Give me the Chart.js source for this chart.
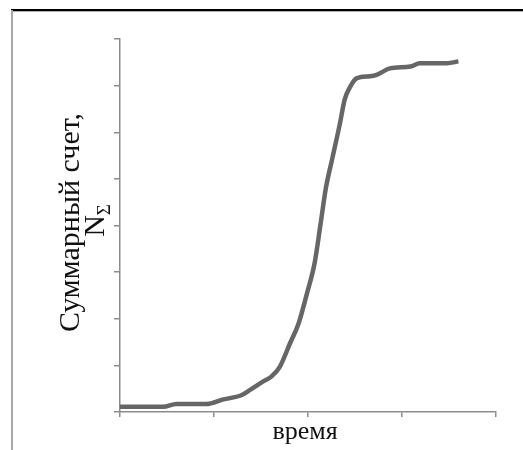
<!DOCTYPE html>
<html>
<head>
<meta charset="utf-8">
<script src="https://cdn.jsdelivr.net/npm/chart.js@4/dist/chart.umd.min.js"></script>
<style>
  html, body { margin: 0; padding: 0; background: #fff; }
  #wrap { width: 523px; height: 450px; position: relative; }
</style>
</head>
<body>
<div id="wrap"><canvas id="myChart"></canvas></div>
<script>
const cox = document.getElementById('myChart').getContext('2d');

// Time (in x tick units) and cumulative count (in y tick units)
const timeValues = [0, 0.46, 0.60, 0.92, 1.10, 1.29, 1.38, 1.52, 1.61, 1.70, 1.81, 1.90, 1.99, 2.07, 2.13, 2.19, 2.26, 2.34, 2.39, 2.45, 2.52, 2.66, 2.73, 2.87, 3.09, 3.19, 3.48, 3.60];
const countValues = [0.11, 0.11, 0.17, 0.17, 0.27, 0.36, 0.47, 0.65, 0.76, 0.97, 1.48, 1.90, 2.55, 3.19, 3.98, 4.80, 5.45, 6.19, 6.70, 6.98, 7.16, 7.20, 7.23, 7.37, 7.41, 7.48, 7.48, 7.52];

const xTitle = 'время';
const yTitleLine1 = 'Суммарный счет,';
const yTitleMain = 'N';
const yTitleSub = 'Σ';

const serif = '"Liberation Serif", "DejaVu Serif", serif';
const axisGray = '#8c8c8c';

// Frame, axis titles (with subscript) drawn by hand
const decorations = {
    id: 'decorations',
    beforeDraw(chart) {
        const ctx = chart.ctx;
        ctx.save();
        ctx.fillStyle = '#fff';
        ctx.fillRect(0, 0, chart.width, chart.height);
        ctx.fillStyle = '#000';
        ctx.fillRect(11, 9, chart.width - 11, 2);
        ctx.fillStyle = '#b0b0b0';
        ctx.fillRect(11, 11, chart.width - 11, 1);
        ctx.fillStyle = '#a8a8a8';
        ctx.fillRect(11, 10, 2, chart.height - 10);
        ctx.restore();
    },
    afterDraw(chart) {
        const ctx = chart.ctx;
        const area = chart.chartArea;
        const cy = (area.top + area.bottom) / 2;
        ctx.save();
        ctx.fillStyle = '#111';
        ctx.textBaseline = 'middle';
        ctx.textAlign = 'center';
        ctx.font = '26px ' + serif;
        ctx.fillText(xTitle, 305, 432);

        ctx.translate(0, cy);
        ctx.rotate(-Math.PI / 2);
        ctx.font = '30px ' + serif;
        ctx.fillText(yTitleLine1, 3, 71);
        const wN = ctx.measureText(yTitleMain).width;
        ctx.font = '19px ' + serif;
        const wS = ctx.measureText(yTitleSub).width;
        const start = 5 - (wN + wS) / 2;
        ctx.textAlign = 'left';
        ctx.font = '30px ' + serif;
        ctx.fillText(yTitleMain, start, 96);
        ctx.font = '19px ' + serif;
        ctx.fillText(yTitleSub, start + wN, 105);
        ctx.restore();
    }
};

const data = {
    datasets: [{
        data: timeValues.map((t, i) => ({ x: t, y: countValues[i] })),
        showLine: true,
        borderColor: '#666666',
        borderWidth: 4.5,
        pointRadius: 0,
        cubicInterpolationMode: 'monotone',
        fill: false
    }]
};

const options = {
    responsive: true,
    maintainAspectRatio: false,
    animation: false,
    layout: {
        padding: { top: 39, right: 27, left: 0, bottom: 0 }
    },
    plugins: {
        legend: { display: false },
        tooltip: { enabled: false }
    },
    scales: {
        x: {
            type: 'linear',
            min: 0,
            max: 4,
            afterFit: s => { s.height = 38; },
            border: { display: true, color: axisGray, width: 1.5 },
            grid: { drawOnChartArea: false, drawTicks: true, tickLength: 5, color: axisGray, lineWidth: 1.5 },
            ticks: { display: false, stepSize: 1 }
        },
        y: {
            min: 0,
            max: 8,
            afterFit: s => { s.width = 120; },
            border: { display: true, color: axisGray, width: 1.5 },
            grid: { drawOnChartArea: false, drawTicks: true, tickLength: 6, color: axisGray, lineWidth: 1.5 },
            ticks: { display: false, stepSize: 1 }
        }
    }
};

const myChart = new Chart(cox, {
    type: 'scatter',
    data: data,
    options: options,
    plugins: [decorations]
});
</script>
</body>
</html>
